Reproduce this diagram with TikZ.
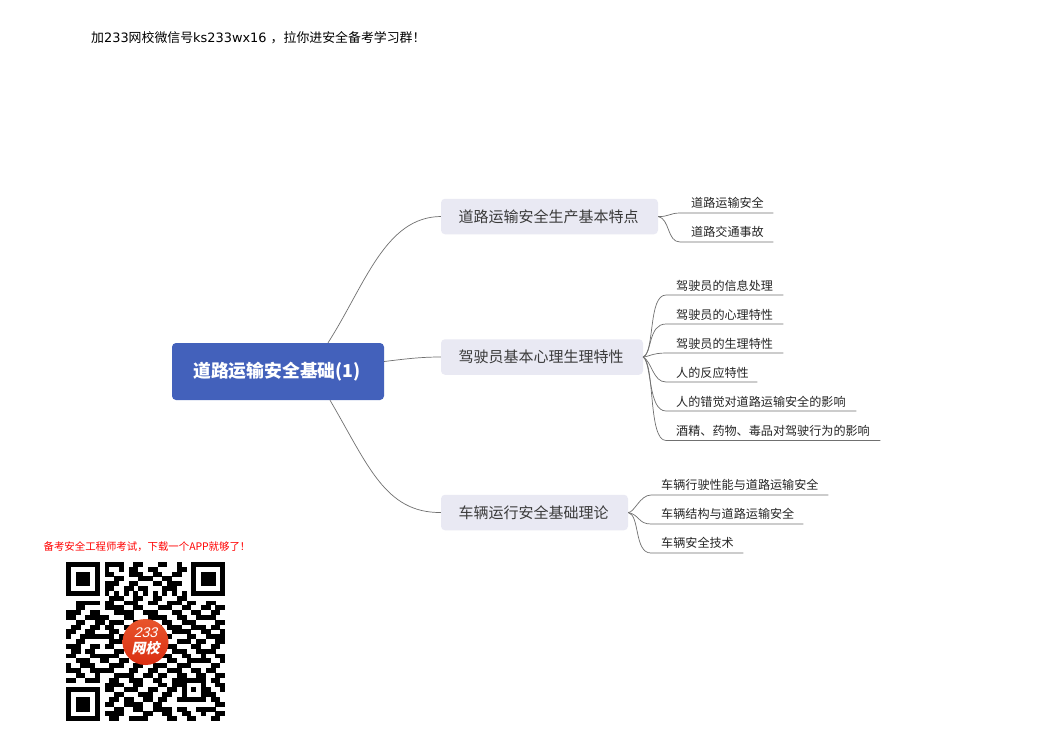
\documentclass[tikz,border=0pt]{standalone}
\usepackage{fontspec}
\setmainfont{Noto Sans CJK SC}
\newfontfamily\latwide{DejaVu Sans}
\newfontfamily\logolat[FakeSlant=0.25]{Liberation Sans}
\newfontfamily\logocjk[FakeSlant=0.2]{Noto Sans CJK SC}
\usetikzlibrary{calc}
\definecolor{rootc}{HTML}{4361BB}
\definecolor{branchc}{HTML}{E9E9F3}
\definecolor{linec}{HTML}{707070}
\definecolor{txtc}{HTML}{3A3A3A}
\definecolor{leaft}{HTML}{262626}
\definecolor{logoa}{HTML}{E8552C}
\definecolor{logob}{HTML}{DA2E12}
\newcount\qrx
\newcount\qry
\def\qrparse#1{\ifx#1\relax\else\if1#1\fill[black] (66+4.82*\the\qrx,562+4.82*\the\qry) rectangle ++(4.9,4.9);\fi\advance\qrx by 1 \expandafter\qrparse\fi}
\def\qrrow#1#2{\qry=#1 \qrx=0 \qrparse#2\relax}
\tikzset{
 rootbox/.style={fill=rootc,rounded corners=4pt,minimum width=212pt,minimum height=57pt,inner sep=0pt,text=white,font=\fontsize{17.8}{20}\selectfont\bfseries},
 branchbox/.style={fill=branchc,rounded corners=4pt,minimum height=35.5pt,inner sep=0pt,text=txtc,font=\fontsize{15}{18}\selectfont},
 link/.style={draw=linec,line width=0.7pt},
 leafbox/.style={minimum height=21pt,inner ysep=0pt,inner xsep=0pt,anchor=south west},
}
% name, x start, x end, y line, text offset, text
\newcommand{\leafn}[6]{\node[leafbox,minimum width=#3pt-#2pt] (#1) at (#2,#4) {};\node[anchor=west,inner sep=0pt,text=leaft,font=\fontsize{12.1}{14}\selectfont] (#1t) at ($(#1.west)+(#5)$) {#6};}
\begin{document}
\begin{tikzpicture}[x=1pt,y=-1pt]
\useasboundingbox (0,0) rectangle (1052,744);
\fill[white] (0,0) rectangle (1052,744);
\node[anchor=west,inner sep=0pt,font=\fontsize{12.9}{15}\selectfont] (top) at (91,37.5) {加{\latwide 233}网校微信号{\latwide ks233wx16 }，拉你进安全备考学习群！};
\node[anchor=center,inner sep=0pt,text=red,font=\fontsize{10.4}{12}\selectfont] (ad) at (147,546.5) {备考安全工程师考试，下载一个APP就够了！};
% root and branches
\node[rootbox] (root) at (278,371.5) {\hspace*{-2pt}\raisebox{-2pt}{道路运输安全基础(1)}};
\node[branchbox,minimum width=217pt] (b1) at (549.5,216.5) {\hspace*{-2pt}\raisebox{-2pt}{道路运输安全生产基本特点}};
\node[branchbox,minimum width=202pt] (b2) at (542,357) {\hspace*{-2pt}\raisebox{-2pt}{驾驶员基本心理生理特性}};
\node[branchbox,minimum width=187pt] (b3) at (534.5,512.5) {\hspace*{-2pt}\raisebox{-2pt}{车辆运行安全基础理论}};
\draw[link] ($(root.north)+(50,0)$) .. controls (365,285) and (385,217) .. (b1.west);
\draw[link] ($(root.east)+(0,-10)$) .. controls (405,359) and (420,357) .. (b2.west);
\draw[link] ($(root.south)+(52,0)$) .. controls (368,465) and (385,513) .. (b3.west);
% leaves
\leafn{a1}{680}{773}{213}{11,0.2}{道路运输安全}
\leafn{a2}{680}{773}{242}{11,0.2}{道路交通事故}
\leafn{c1}{666}{783}{295}{10,1.2}{驾驶员的信息处理}
\leafn{c2}{666}{783}{324}{10,1.2}{驾驶员的心理特性}
\leafn{c3}{666}{783}{353}{10,1.2}{驾驶员的生理特性}
\leafn{c4}{666}{757}{382}{10,1.2}{人的反应特性}
\leafn{c5}{666}{856}{411}{10,1.2}{人的错觉对道路运输安全的影响}
\leafn{c6}{666}{880}{440.5}{10,0.7}{酒精、药物、毒品对驾驶行为的影响}
\leafn{d1}{651}{828}{495}{10,0.2}{车辆行驶性能与道路运输安全}
\leafn{d2}{651}{803}{524}{10,0.2}{车辆结构与道路运输安全}
\leafn{d3}{651}{743}{553}{10,0.2}{车辆安全技术}
\draw[link] (b1.east) .. controls (668,217) and (670,213) .. (a1.south west) -- (a1.south east);
\draw[link] (b1.east) .. controls (670,219) and (667,242) .. (a2.south west) -- (a2.south east);
\draw[link] (b2.east) .. controls (655,352) and (648,295) .. (c1.south west) -- (c1.south east);
\draw[link] (b2.east) .. controls (652,354) and (648,324) .. (c2.south west) -- (c2.south east);
\draw[link] (b2.east) .. controls (648,357) and (652,353) .. (c3.south west) -- (c3.south east);
\draw[link] (b2.east) .. controls (652,362) and (653,382) .. (c4.south west) -- (c4.south east);
\draw[link] (b2.east) .. controls (652,364) and (648,411) .. (c5.south west) -- (c5.south east);
\draw[link] (b2.east) .. controls (655,364) and (648,440.5) .. (c6.south west) -- (c6.south east);
\draw[link] (b3.east) .. controls (634,513) and (640,495) .. (d1.south west) -- (d1.south east);
\draw[link] (b3.east) .. controls (640,515) and (638,524) .. (d2.south west) -- (d2.south east);
\draw[link] (b3.east) .. controls (640,515) and (634,553) .. (d3.south west) -- (d3.south east);
% QR code
\qrrow{0}{1111111 0 111100110001100100 1111111}
\qrrow{1}{1000001 0 100101100110000110 1000001}
\qrrow{2}{1011101 0 110001110011001100 1011101}
\qrrow{3}{1011101 0 001100011100110000 1011101}
\qrrow{4}{1011101 0 111001100011011100 1011101}
\qrrow{5}{1000001 0 110011011000111000 1000001}
\qrrow{6}{1111111 0 101010101010101010 1111111}
\qrrow{7}{0000000 0 011100110011000110 0000000}
\qrrow{8}{00111110 1100111001100111 01100 1100}
\qrrow{9}{00110000 1111001100011100 11001 1011}
\qrrow{10}{11100110 0011110011100011 00110 0110}
\qrrow{11}{11001111 1000110001111001 10011 1100}
\qrrow{12}{00110011 0111001111001100 11100 0011}
\qrrow{13}{01100110 1100110000110111 00111 0110}
\qrrow{14}{11001100 0110011001100011 11001 1001}
\qrrow{15}{10011111 1101100110011100 01100 1111}
\qrrow{16}{00110000 0111000000011001 11011 0011}
\qrrow{17}{11100110 1100110011001110 00110 0110}
\qrrow{18}{01101100 0011001100110011 10011 1100}
\qrrow{19}{11000111 1110011110011100 11001 0011}
\qrrow{20}{00111001 1001100111000110 01111 1001}
\qrrow{21}{10011100 0111001100111001 11000 0110}
\qrrow{22}{11100111 1100011001100111 00110 1100}
\qrrow{23}{00110010 0011110011011001 10011 0011}
\qrrow{24}{11001110 0110011100110011 11111 0110}
\qrrow{25}{00000000 1111001100011011 10001 0011}
\qrrow{26}{11111110 1100111001100110 10101 1001}
\qrrow{27}{10000010 0011000111001100 10001 1100}
\qrrow{28}{10111010 0110110011011001 11111 0110}
\qrrow{29}{10111010 1100111100110000 00000 0011}
\qrrow{30}{10111010 0011001100111101 10011 1100}
\qrrow{31}{10000010 1111000011001100 11001 0011}
\qrrow{32}{11111110 0110011110000110 01100 0110}
% logo
\shade[top color=logoa,bottom color=logob] (145.5,642) circle (23);
\node[inner sep=0pt,text=white,font=\fontsize{14}{15}\selectfont\logolat] (logotxta) at (145.5,632.5) {233};
\node[inner sep=0pt,text=white,font=\fontsize{14}{15}\selectfont\logocjk\bfseries] (logotxtb) at (145.5,648) {网校};
\end{tikzpicture}
\end{document}
